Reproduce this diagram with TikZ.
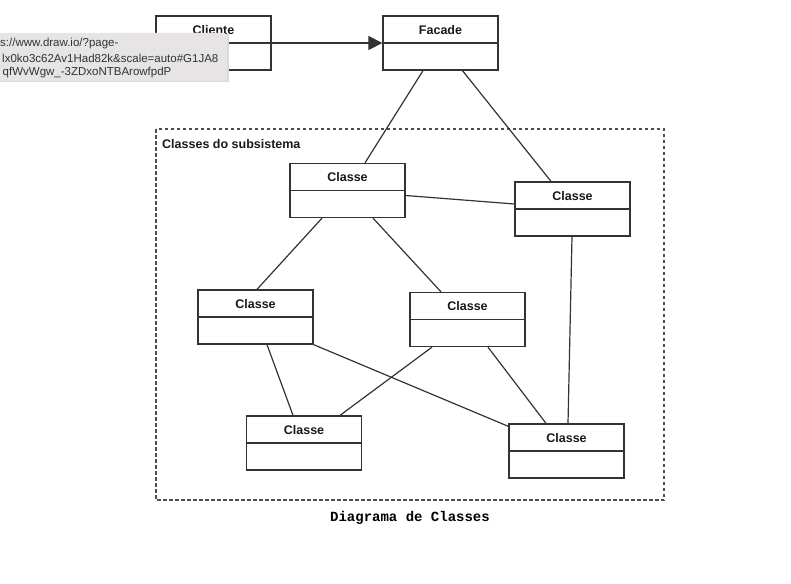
\documentclass[tikz,border=0pt]{standalone}
\usepackage{fontspec}
\setmainfont{Liberation Sans}
\newfontfamily\capfont{Liberation Mono}
\usepackage{xcolor}
\usetikzlibrary{arrows.meta, positioning, calc}

\definecolor{boxline}{HTML}{333333}
\definecolor{dashgray}{HTML}{4D4D4D}
\definecolor{tipgray}{HTML}{E6E4E4}
\definecolor{tiptext}{HTML}{333333}

\tikzset{
  klasse/.style={draw=boxline, line width=1.3pt, fill=white,
    minimum width=115pt, minimum height=54pt, inner sep=0pt},
  divider/.style={draw=boxline, line width=1.3pt},
  titel/.style={font=\bfseries\fontsize{12.5}{15}\selectfont, text=black!90},
  conn/.style={draw=boxline, line width=1.2pt},
  tiptxt/.style={font=\fontsize{11.5}{14}\selectfont, text=tiptext, anchor=west, inner sep=0pt}
}

\begin{document}
\begin{tikzpicture}[x=1pt, y=-1pt]
  \useasboundingbox (0,0) rectangle (791,583);

  % subsystem frame
  \draw[dashgray, line width=1.2pt, dash pattern=on 3.5pt off 2.5pt] (156,129) rectangle (664,500);
  \node[titel, anchor=west, inner sep=0pt] (sublabel) at (162,144) {Classes do subsistema};

  % class boxes
  \foreach \n/\x/\y/\t in {cliente/213.5/43/Cliente, facade/440.5/43/Facade,
      clsA/347.5/190.5/Classe, clsB/572.5/209/Classe, clsC/255.5/317/Classe,
      clsD/467.5/319.5/Classe, clsE/304/443/Classe, clsF/566.5/451/Classe} {
    \node[klasse] (\n) at (\x,\y) {};
    \draw[divider] (\n.west) -- (\n.east);
    \node[titel] at ([yshift=-14.5pt]\n.north) {\t};
  }

  % associations
  \draw[conn, -{Triangle[length=14pt,width=14pt]}] (cliente.east) -- (facade.west);
  \draw[conn] ([xshift=-17.5pt]facade.south) -- ([xshift=17.5pt]clsA.north);
  \draw[conn] ([xshift=22pt]facade.south) -- ([xshift=-21.5pt]clsB.north);
  \draw[conn] ([yshift=-5pt]clsA.east) -- ([yshift=5pt]clsB.west);
  \draw[conn] ([xshift=-25.5pt]clsA.south) -- ([xshift=1.5pt]clsC.north);
  \draw[conn] ([xshift=25.5pt]clsA.south) -- ([xshift=-26.5pt]clsD.north);
  \draw[conn] ([xshift=-0.5pt]clsB.south) -- ([xshift=1.5pt]clsF.north);
  \draw[conn] ([xshift=11.5pt]clsC.south) -- ([xshift=-11pt]clsE.north);
  \draw[conn] (clsC.south east) -- ([yshift=-3pt]clsF.north west);
  \draw[conn] ([xshift=-35.5pt]clsD.south) -- ([xshift=36pt]clsE.north);
  \draw[conn] ([xshift=20.5pt]clsD.south) -- ([xshift=-20.5pt]clsF.north);

  % browser tooltip over the client box
  \begin{scope}
    \clip (0,30) rectangle (232,86);
    \fill[black!15] (-10,34.5) rectangle (228.5,82.5);
    \fill[tipgray, rounded corners=3pt] (-10,33) rectangle (227,81);
    \node[tiptxt] (tip1) at (0,44) {s://www.draw.io/?page-};
    \node[tiptxt] (tip2) at (2,58) {lx0ko3c62Av1Had82k\&scale=auto\#G1JA8};
    \node[tiptxt] (tip3) at (2.5,72.5) {qfWvWgw\_-3ZDxoNTBArowfpdP};
  \end{scope}

  \node[font=\capfont\bfseries\fontsize{14}{16}\selectfont] (caption) at (410,518) {Diagrama de Classes};
\end{tikzpicture}
\end{document}
